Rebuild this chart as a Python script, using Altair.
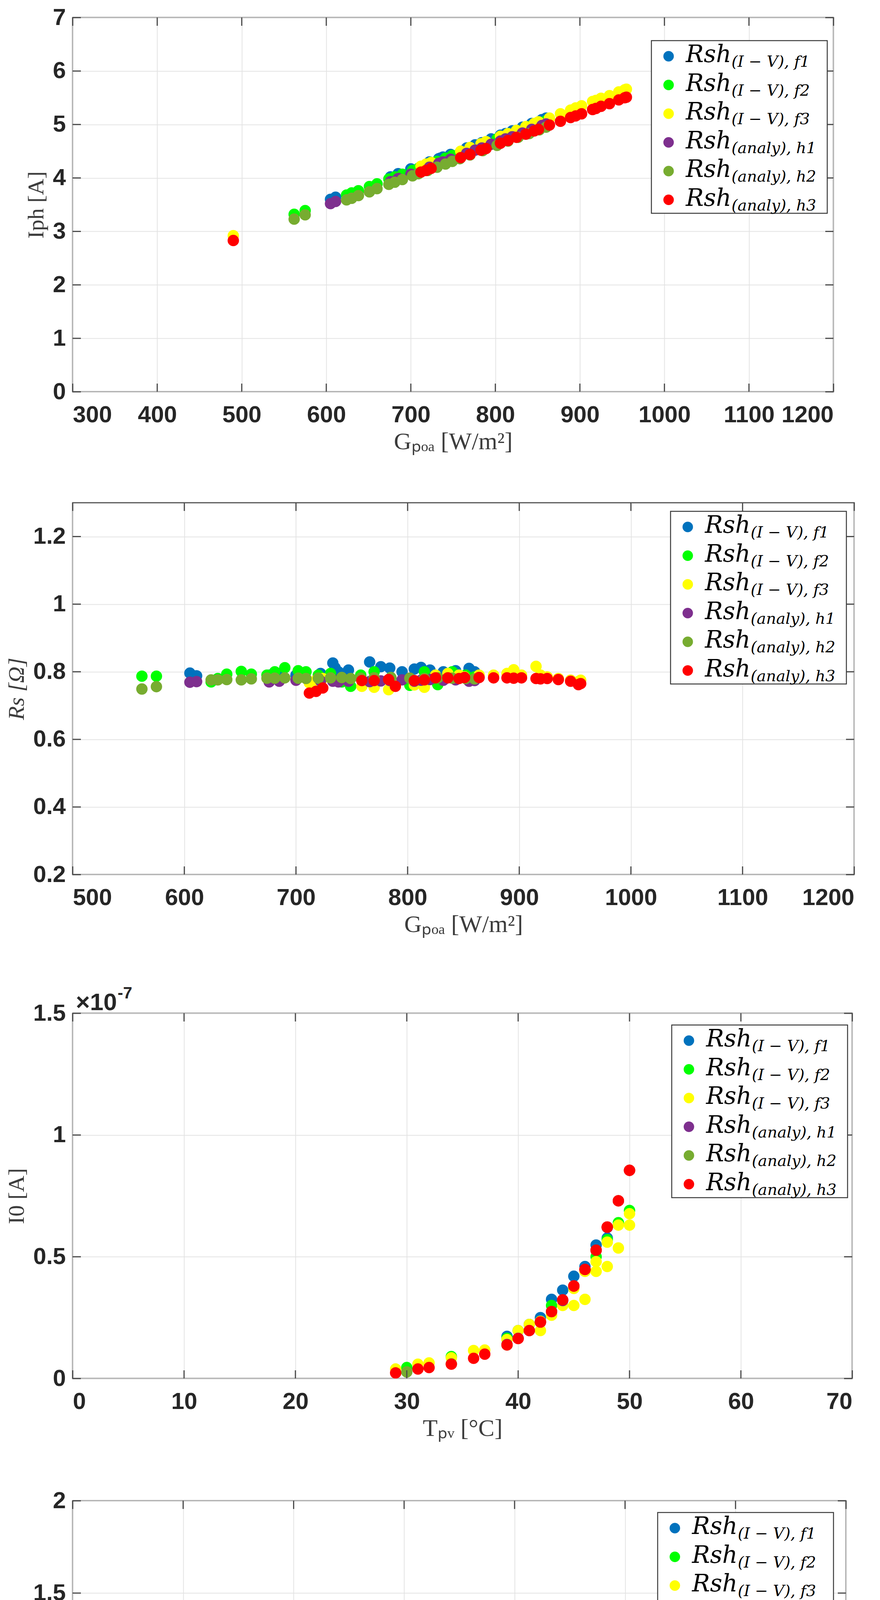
import altair as alt
import pandas as pd

# ---------------- data ----------------
SERIES = ["f1", "f2", "f3", "h1", "h2", "h3"]
SUBS = ["(I − V), f1", "(I − V), f2", "(I − V), f3",
        "(analy), h1", "(analy), h2", "(analy), h3"]
COLORS = ["#0072BD", "#00FF00", "#FFFF00", "#7E2F8E", "#77AC30", "#FF0000"]

# irradiance of the three measurement days
g_day1 = [605, 611, 676, 685, 700, 722, 733, 735, 738, 747, 766, 776, 784, 795,
          806, 812, 820, 832, 843, 855, 860]
g_day2 = [562, 575, 624, 630, 638, 651, 660, 674, 681, 690, 702, 709, 720, 731,
          741, 749, 758, 770, 785, 802, 815, 827, 840, 852, 860]
g_day3 = [490, 712, 718, 724, 759, 770, 783, 789, 806, 815, 825, 836, 846, 851,
          864, 877, 889, 895, 902, 915, 919, 925, 935, 946, 953, 955]

iph_f1 = [3.60, 3.64, 4.02, 4.08, 4.17, 4.30, 4.36, 4.37, 4.39, 4.44, 4.56, 4.62,
          4.66, 4.73, 4.80, 4.83, 4.88, 4.95, 5.02, 5.09, 5.12]
iph_h1 = [3.52, 3.56, 3.93, 3.99, 4.07, 4.20, 4.27, 4.28, 4.30, 4.35, 4.46, 4.52,
          4.56, 4.63, 4.69, 4.73, 4.77, 4.84, 4.91, 4.98, 5.01]
iph_f2 = [3.32, 3.39, 3.68, 3.72, 3.76, 3.84, 3.89, 3.98, 4.02, 4.07, 4.14, 4.18,
          4.25, 4.31, 4.37, 4.42, 4.47, 4.54, 4.63, 4.73, 4.81, 4.88, 4.96, 5.03, 5.07]
iph_h2 = [3.23, 3.31, 3.59, 3.62, 3.67, 3.74, 3.80, 3.88, 3.92, 3.97, 4.04, 4.08,
          4.14, 4.20, 4.26, 4.31, 4.36, 4.43, 4.51, 4.61, 4.69, 4.76, 4.83, 4.90, 4.95]
iph_f3 = [2.92, 4.22, 4.26, 4.29, 4.50, 4.57, 4.64, 4.68, 4.78, 4.83, 4.89, 4.96,
          5.02, 5.05, 5.12, 5.20, 5.27, 5.31, 5.35, 5.43, 5.45, 5.49, 5.54, 5.61,
          5.65, 5.66]
iph_h3 = [2.83, 4.11, 4.14, 4.18, 4.38, 4.44, 4.52, 4.55, 4.65, 4.70, 4.76, 4.82,
          4.88, 4.91, 4.99, 5.06, 5.13, 5.16, 5.20, 5.28, 5.30, 5.34, 5.39, 5.46,
          5.50, 5.51]

rs_f1 = [0.796, 0.788, 0.790, 0.795, 0.790, 0.795, 0.826, 0.812, 0.800, 0.805,
         0.829, 0.815, 0.811, 0.800, 0.808, 0.813, 0.805, 0.800, 0.803, 0.810, 0.800]
rs_h1 = [0.769, 0.771, 0.770, 0.772, 0.775, 0.773, 0.772, 0.774, 0.770, 0.772,
         0.771, 0.773, 0.774, 0.776, 0.772, 0.775, 0.777, 0.775, 0.776, 0.772, 0.774]
rs_f2 = [0.787, 0.787, 0.770, 0.780, 0.793, 0.801, 0.793, 0.790, 0.800, 0.812,
         0.803, 0.800, 0.790, 0.795, 0.770, 0.757, 0.790, 0.800, 0.780, 0.760,
         0.800, 0.762, 0.800, 0.790, 0.785]
rs_h2 = [0.749, 0.756, 0.776, 0.776, 0.777, 0.776, 0.779, 0.781, 0.781, 0.782,
         0.781, 0.780, 0.781, 0.782, 0.783, 0.780, 0.781, 0.782, 0.783, 0.781,
         0.780, 0.782, 0.781, 0.780, 0.779]
rs_f3 = [0.780, 0.767, 0.775, 0.780, 0.757, 0.754, 0.747, 0.760, 0.761, 0.754,
         0.790, 0.795, 0.790, 0.785, 0.790, 0.790, 0.795, 0.806, 0.790, 0.816,
         0.790, 0.785, 0.780, 0.775, 0.771, 0.775]
rs_h3 = [0.770, 0.737, 0.742, 0.752, 0.774, 0.774, 0.777, 0.757, 0.774, 0.776,
         0.782, 0.782, 0.780, 0.783, 0.783, 0.782, 0.782, 0.781, 0.782, 0.780,
         0.779, 0.780, 0.777, 0.772, 0.762, 0.765]

# module temperature of the three days
t_day1 = [39, 40, 41, 42, 43, 44, 45, 46, 47, 48]
t_day2 = [30, 34, 39, 43, 47, 48, 49, 50]
t_day3 = [29, 31, 32, 34, 36, 37, 39, 40, 41, 42, 42, 43, 44, 45, 45, 46, 46, 47,
          47, 48, 48, 49, 49, 50, 50]

# I0 in units of 1e-7 A
i0_f1 = [0.173, 0.197, 0.222, 0.250, 0.325, 0.363, 0.420, 0.460, 0.548, 0.577]
i0_h1 = [0.140, 0.165, 0.197, 0.232, 0.275, 0.320, 0.380, 0.448, 0.527, 0.620]
i0_f2 = [0.045, 0.090, 0.165, 0.300, 0.500, 0.570, 0.640, 0.690]
i0_h2 = [0.027, 0.060, 0.138, 0.275, 0.527, 0.622, 0.730, 0.855]
i0_f3 = [0.039, 0.059, 0.064, 0.085, 0.115, 0.117, 0.160, 0.197, 0.222, 0.235,
         0.197, 0.260, 0.300, 0.300, 0.370, 0.325, 0.440, 0.440, 0.480, 0.460,
         0.560, 0.536, 0.630, 0.630, 0.677]
i0_h3 = [0.023, 0.039, 0.045, 0.059, 0.083, 0.100, 0.138, 0.164, 0.197, 0.232,
         0.232, 0.275, 0.323, 0.380, 0.380, 0.448, 0.448, 0.527, 0.527, 0.622,
         0.622, 0.730, 0.730, 0.855, 0.855]

n_f1 = [1.101, 1.101, 1.102, 1.101, 1.102, 1.102, 1.101, 1.102, 1.102, 1.101]
n_h1 = [1.047, 1.050, 1.055, 1.058, 1.062, 1.067, 1.070, 1.075, 1.078, 1.081]
n_f2 = [1.102, 1.101, 1.102, 1.101, 1.102, 1.102, 1.101, 1.102]
n_h2 = [1.016, 1.031, 1.047, 1.062, 1.078, 1.081, 1.086, 1.086]
n_f3 = [1.102, 1.101, 1.102, 1.101, 1.102, 1.102, 1.101, 1.102, 1.102, 1.101,
        1.102, 1.102, 1.101, 1.102, 1.102, 1.101, 1.102, 1.102, 1.101, 1.102,
        1.102, 1.101, 1.102, 1.102, 1.101]
n_h3 = [1.014, 1.020, 1.023, 1.031, 1.039, 1.044, 1.047, 1.050, 1.055, 1.058,
        1.058, 1.062, 1.067, 1.070, 1.070, 1.075, 1.075, 1.078, 1.078, 1.081,
        1.081, 1.086, 1.086, 1.086, 1.086]

# axis tick values
xt_g1 = [300, 400, 500, 600, 700, 800, 900, 1000, 1100, 1200]
xt_g2 = [500, 600, 700, 800, 900, 1000, 1100, 1200]
xt_t = [0, 10, 20, 30, 40, 50, 60, 70]
yt_iph = [0, 1, 2, 3, 4, 5, 6, 7]
yt_rs = [0.2, 0.4, 0.6, 0.8, 1.0, 1.2]
yt_i0 = [0, 0.5, 1, 1.5]
yt_n = [0, 0.5, 1, 1.5, 2]


def long_frame(groups):
    rows = []
    k = 0
    for s, xs, ys in groups:
        for xv, yv in zip(xs, ys):
            rows.append({"series": s, "x": xv, "y": yv, "idx": k})
            k += 1
    return pd.DataFrame(rows)


df_iph = long_frame([("f1", g_day1, iph_f1), ("f2", g_day2, iph_f2),
                     ("f3", g_day3, iph_f3), ("h1", g_day1, iph_h1),
                     ("h2", g_day2, iph_h2), ("h3", g_day3, iph_h3)])
df_rs = long_frame([("f1", g_day1, rs_f1), ("f2", g_day2, rs_f2),
                    ("f3", g_day3, rs_f3), ("h1", g_day1, rs_h1),
                    ("h2", g_day2, rs_h2), ("h3", g_day3, rs_h3)])
df_i0 = long_frame([("f1", t_day1, i0_f1), ("f2", t_day2, i0_f2),
                    ("f3", t_day3, i0_f3), ("h1", t_day1, i0_h1),
                    ("h2", t_day2, i0_h2), ("h3", t_day3, i0_h3)])
df_n = long_frame([("f1", t_day1, n_f1), ("f2", t_day2, n_f2),
                   ("f3", t_day3, n_f3), ("h1", t_day1, n_h1),
                   ("h2", t_day2, n_h2), ("h3", t_day3, n_h3)])

color_scale = alt.Scale(domain=SERIES, range=COLORS)
LEG_W, LEG_H, ROW = 450, 442, 73.5
TICK = 21
TICK_COLOR = "#4a4a4a"


def panel(df, W, H, xdom, xticks, ydom, yticks, xtitle, ytitle, leg_top, leg_right,
          ytitle_style="normal", ytitle_weight="normal", exponent=False):
    xs = alt.Scale(domain=xdom, nice=False, zero=False)
    ys = alt.Scale(domain=ydom, nice=False, zero=False)
    pts = alt.Chart(df).mark_circle(size=850, opacity=1, clip=True).encode(
        x=alt.X("x:Q", scale=xs,
                axis=alt.Axis(values=xticks, title=xtitle,
                              labelExpr="datum.value + ''")),
        y=alt.Y("y:Q", scale=ys,
                axis=alt.Axis(values=yticks, title=ytitle,
                              labelExpr="datum.value + ''",
                              titleFontStyle=ytitle_style,
                              titleFontWeight=ytitle_weight)),
        color=alt.Color("series:N", scale=color_scale, legend=None),
        order=alt.Order("idx:Q"),
    )
    # inward tick marks on all four sides (MATLAB box style)
    xt_df = pd.DataFrame({"x": xticks})
    yt_df = pd.DataFrame({"y": yticks})
    tk = dict(color=TICK_COLOR, strokeWidth=3)
    xb = alt.Chart(xt_df).mark_rule(**tk).encode(
        x=alt.X("x:Q", scale=xs), y=alt.value(H), y2=alt.value(H - TICK))
    xtp = alt.Chart(xt_df).mark_rule(**tk).encode(
        x=alt.X("x:Q", scale=xs), y=alt.value(0), y2=alt.value(TICK))
    yl = alt.Chart(yt_df).mark_rule(**tk).encode(
        y=alt.Y("y:Q", scale=ys), x=alt.value(0), x2=alt.value(TICK))
    yr = alt.Chart(yt_df).mark_rule(**tk).encode(
        y=alt.Y("y:Q", scale=ys), x=alt.value(W), x2=alt.value(W - TICK))

    bl = W - leg_right - LEG_W
    one = pd.DataFrame({"a": [0]})
    box = alt.Chart(one).mark_rect(fill="white", stroke="#3a3a3a", strokeWidth=2.5).encode(
        x=alt.value(bl), x2=alt.value(bl + LEG_W),
        y=alt.value(leg_top), y2=alt.value(leg_top + LEG_H))
    leg = pd.DataFrame({"series": SERIES, "sub": SUBS, "k": list(range(6))})
    leg["cy"] = leg_top + 40 + ROW * leg["k"]
    dots = alt.Chart(leg).mark_circle(size=720, opacity=1).encode(
        x=alt.value(bl + 44), y=alt.Y("cy:Q", scale=None, axis=None),
        color=alt.Color("series:N", scale=color_scale, legend=None))
    main = alt.Chart(leg).mark_text(
        text="Rsh", font="DejaVu Serif", fontStyle="italic", fontSize=61,
        align="left", baseline="alphabetic", dy=15, color="black").encode(
        x=alt.value(bl + 88), y=alt.Y("cy:Q", scale=None, axis=None))
    sub = alt.Chart(leg).mark_text(
        font="DejaVu Serif", fontStyle="italic", fontSize=40,
        align="left", baseline="alphabetic", dy=27, color="black").encode(
        x=alt.value(bl + 205), y=alt.Y("cy:Q", scale=None, axis=None),
        text="sub:N")
    layers = [pts, xb, xtp, yl, yr, box, dots, main, sub]
    if exponent:
        base_txt = alt.Chart(one).mark_text(
            text="×10", font="Liberation Sans", fontWeight="bold", fontSize=62,
            align="left", baseline="alphabetic", color="#262626").encode(
            x=alt.value(8), y=alt.value(-8))
        exp_txt = alt.Chart(one).mark_text(
            text="-7", font="Liberation Sans", fontWeight="bold", fontSize=42,
            align="left", baseline="alphabetic", color="#262626").encode(
            x=alt.value(115), y=alt.value(-38))
        layers += [base_txt, exp_txt]
    return alt.layer(*layers).properties(width=W, height=H)


p1 = panel(df_iph, 1947, 958, [300, 1200], xt_g1, [0, 7], yt_iph,
           "Gₚₒₐ [W/m²]", "Iph [A]", 59, 16)
p2 = panel(df_rs, 2000, 952, [500, 1200], xt_g2, [0.2, 1.3], yt_rs,
           "Gₚₒₐ [W/m²]", "Rs [Ω]", 22, 20, ytitle_style="italic")
p3 = panel(df_i0, 1995, 935, [0, 70], xt_t, [0, 1.5], yt_i0,
           "Tₚᵥ [°C]", "I0 [A]", 30, 12, exponent=True)
p4 = panel(df_n, 1979, 945, [0, 70], xt_t, [0, 2], yt_n,
           "Tₚᵥ [°C]", "n", 30, 32, ytitle_style="italic", ytitle_weight="bold")

chart = alt.vconcat(p1, p2, p3, p4, spacing=121).configure_view(
    stroke="#555555", strokeWidth=3
).configure_axis(
    labelFont="Liberation Sans", labelFontWeight="bold", labelFontSize=60,
    labelColor="#262626", titleFont="Liberation Serif", titleFontSize=58,
    titleFontWeight="normal", titleColor="#3c3c3c",
    gridColor="#e3e3e3", gridWidth=2, domain=False, ticks=False,
).configure_axisX(labelPadding=30, titlePadding=8, titleFontSize=62).configure_axisY(
    labelPadding=18, titlePadding=12
)

chart.save("out.html", embed_options={"renderer": "svg", "actions": False})
